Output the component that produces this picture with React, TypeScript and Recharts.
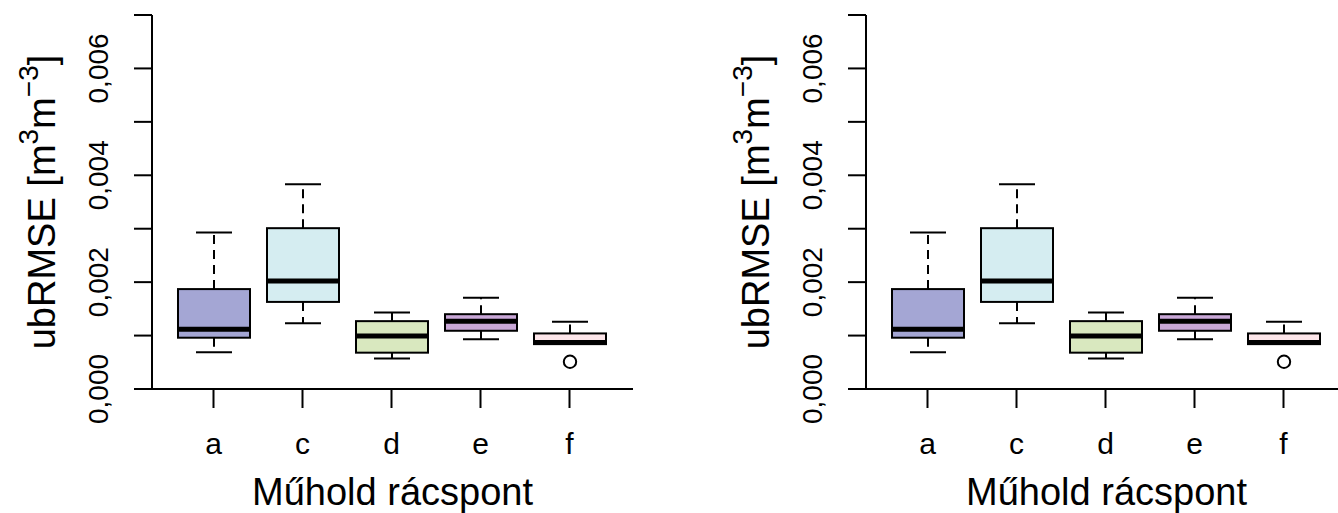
import React from 'react';
import { ComposedChart, Bar, XAxis, YAxis, Label } from 'recharts';

// box statistics (ubRMSE, m3/m3)
const categories = ['a', 'c', 'd', 'e', 'f'];
const lowerWhisker = [0.00069, 0.00123, 0.00057, 0.00093, 0.00084];
const q1 = [0.00096, 0.00163, 0.00068, 0.00109, 0.00084];
const median = [0.00112, 0.00202, 0.00099, 0.00127, 0.00087];
const q3 = [0.00187, 0.00301, 0.00127, 0.0014, 0.00104];
const upperWhisker = [0.00293, 0.00383, 0.00143, 0.00171, 0.00126];
const outliers: (number | null)[] = [null, null, null, null, 0.00051];

const boxFills = ['#a4a6d4', '#d5edf1', '#d9e8bf', '#c9a7d7', '#fde6ea'];

const yTicks = [0, 0.001, 0.002, 0.003, 0.004, 0.005, 0.006, 0.007];
const yTickLabels = ['0,000', '', '0,002', '', '0,004', '', '0,006', ''];

const FONT = '"Liberation Sans", Arial, Helvetica, sans-serif';

const data = categories.map((name, i) => ({
    name,
    lo: lowerWhisker[i],
    q1: q1[i],
    med: median[i],
    q3: q3[i],
    hi: upperWhisker[i],
    out: outliers[i],
    fill: boxFills[i],
}));

const rangeOf = (d: any) => [Math.min(d.lo, d.out ?? d.lo), d.hi];

const BoxShape = (props: any) => {
    const { x, y, width, height, payload } = props;
    const [lo, hi] = rangeOf(payload);
    const top = Math.min(y, y + height);
    const k = Math.abs(height) / (hi - lo);
    const py = (v: number) => top + (hi - v) * k;
    const cx = x + width / 2;
    const cap = width / 4;
    return (
        <g>
            {payload.hi > payload.q3 && (
                <line x1={cx} x2={cx} y1={py(payload.q3)} y2={py(payload.hi)} stroke="#000" strokeWidth={2} strokeDasharray="9 6" />
            )}
            {payload.lo < payload.q1 && (
                <line x1={cx} x2={cx} y1={py(payload.q1)} y2={py(payload.lo)} stroke="#000" strokeWidth={2} strokeDasharray="9 6" />
            )}
            <line x1={cx - cap} x2={cx + cap} y1={py(payload.hi)} y2={py(payload.hi)} stroke="#000" strokeWidth={2} />
            <line x1={cx - cap} x2={cx + cap} y1={py(payload.lo)} y2={py(payload.lo)} stroke="#000" strokeWidth={2} />
            <rect x={x} y={py(payload.q3)} width={width} height={py(payload.q1) - py(payload.q3)} fill={payload.fill} stroke="#000" strokeWidth={2} />
            <line x1={x} x2={x + width} y1={py(payload.med)} y2={py(payload.med)} stroke="#000" strokeWidth={5} />
            {payload.out != null && (
                <circle cx={cx} cy={py(payload.out)} r={6.2} fill="none" stroke="#000" strokeWidth={2} />
            )}
        </g>
    );
};

const YTick = (props: any) => {
    const { x, y, index } = props;
    return (
        <text x={x} y={y} transform={`rotate(-90, ${x}, ${y})`} textAnchor="middle" fontSize={28} fontFamily={FONT} fill="#000">
            {yTickLabels[index]}
        </text>
    );
};

const XTick = (props: any) => {
    const { x, y, payload } = props;
    return (
        <text x={x} y={y + 46} textAnchor="middle" fontSize={30} fontFamily={FONT} fill="#000">
            {payload.value}
        </text>
    );
};

const YTitle = (props: any) => {
    const vb = props.viewBox;
    const bx = vb.x + 55;
    const cy = vb.y + vb.height / 2;
    return (
        <text transform={`rotate(-90, ${bx}, ${cy})`} x={bx} y={cy} textAnchor="middle" fontSize={38} fontFamily={FONT} fill="#000">
            ubRMSE [m
            <tspan fontSize={28} dy={-17}>3</tspan>
            <tspan dy={17}>m</tspan>
            <tspan fontSize={28} dy={-17}>−3</tspan>
            <tspan dy={17}>]</tspan>
        </text>
    );
};

const XTitle = (props: any) => {
    const vb = props.viewBox;
    return (
        <text x={vb.x + vb.width / 2} y={vb.y + 116} textAnchor="middle" fontSize={38} fontFamily={FONT} fill="#000">
            Műhold rácspont
        </text>
    );
};

const Panel = () => (
    <ComposedChart width={714} height={513} data={data} margin={{ top: 15, right: 81, left: 0, bottom: 0 }}>
        <XAxis
            dataKey="name"
            height={124}
            padding={{ left: 17, right: 19 }}
            tickSize={19}
            tickMargin={0}
            tick={<XTick />}
            axisLine={{ stroke: '#000', strokeWidth: 2 }}
            tickLine={{ stroke: '#000', strokeWidth: 2 }}
        >
            <Label content={<XTitle />} />
        </XAxis>
        <XAxis xAxisId="top" orientation="top" dataKey="name" height={0} tick={false} tickLine={false} axisLine={{ stroke: '#000', strokeWidth: 2 }} />
        <YAxis
            type="number"
            domain={[0, 0.007]}
            ticks={yTicks}
            interval={0}
            width={152}
            tickSize={18}
            tickMargin={26}
            tick={<YTick />}
            axisLine={{ stroke: '#000', strokeWidth: 2 }}
            tickLine={{ stroke: '#000', strokeWidth: 2 }}
        >
            <Label content={<YTitle />} />
        </YAxis>
        <YAxis yAxisId="right" orientation="right" type="number" domain={[0, 0.007]} width={0} tick={false} tickLine={false} axisLine={{ stroke: '#000', strokeWidth: 2 }} />
        <Bar dataKey={rangeOf} barSize={72} shape={<BoxShape />} isAnimationActive={false} />
    </ComposedChart>
);

export default function App() {
    return (
        <div style={{ position: 'absolute', left: 0, top: 0, width: 1338, height: 513, overflow: 'hidden', display: 'flex', background: '#fff', fontFamily: FONT }}>
            <div style={{ flex: '0 0 714px' }}>
                <Panel />
            </div>
            <div style={{ flex: '0 0 714px' }}>
                <Panel />
            </div>
        </div>
    );
}
